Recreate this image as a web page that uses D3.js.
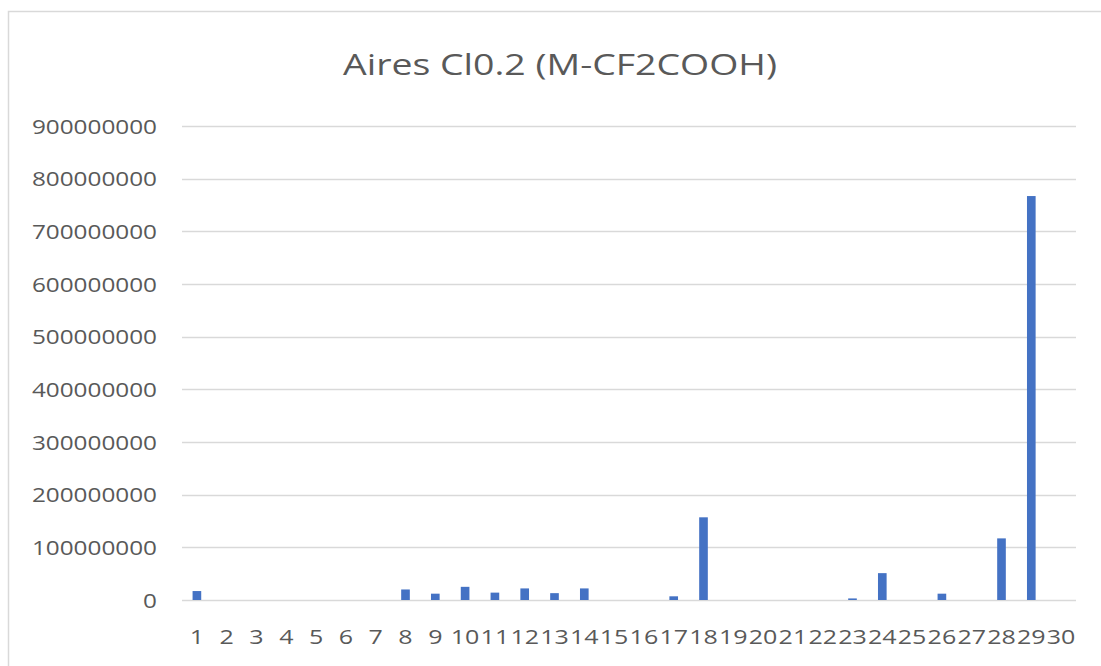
<!DOCTYPE html>
<html>
<head>
<meta charset="utf-8">
<script src="https://cdn.jsdelivr.net/npm/d3@7"></script>
<style>
html,body{margin:0;padding:0;background:#fff;}
svg{display:block;}
</style>
</head>
<body>
<svg id="chart" width="1101" height="666"></svg>
<script>
const chartTitle = "Aires Cl0.2 (M-CF2COOH)";
const categories = ["1","2","3","4","5","6","7","8","9","10","11","12","13","14","15","16","17","18","19","20","21","22","23","24","25","26","27","28","29","30"];
const values = [17e6,0,0,0,0,0,0,20e6,12e6,25e6,14e6,22e6,13e6,22e6,0,0,7e6,157e6,0,0,0,0,3e6,51e6,0,12e6,0,117e6,767e6,0];
const yTicks = [0,100000000,200000000,300000000,400000000,500000000,600000000,700000000,800000000,900000000];

const svg = d3.select("#chart");
const W = 1101, H = 666;
svg.append("rect").attr("width",W).attr("height",H).attr("fill","#fff");
// chart area border
svg.append("rect").attr("x",8.5).attr("y",11.5).attr("width",1200).attr("height",800)
  .attr("fill","none").attr("stroke","#d9d9d9").attr("stroke-width",1.5);

const plot = {left:182, right:1076, top:126, bottom:600};
const x = d3.scaleBand().domain(categories).range([plot.left, plot.right]).padding(0);
const y = d3.scaleLinear().domain([0,900000000]).range([plot.bottom, plot.top]);

const font = "'Open Sans', 'DejaVu Sans', sans-serif";
const textColor = "#595959";

// gridlines
svg.append("g").selectAll("line").data(yTicks).join("line")
  .attr("x1",plot.left).attr("x2",plot.right)
  .attr("y1",d=>Math.round(y(d))+0.5).attr("y2",d=>Math.round(y(d))+0.5)
  .attr("stroke","#d9d9d9").attr("stroke-width",1.5);

// y axis labels via d3 axis
const yAxis = d3.axisLeft(y).tickValues(yTicks).tickFormat(d3.format("d")).tickSize(0).tickPadding(0);
const gy = svg.append("g").attr("transform","translate(157,0)").call(yAxis);
gy.select(".domain").remove();
gy.selectAll("text").attr("font-family",font).attr("font-size",20).attr("fill",textColor)
  .attr("dy","0.36em")
  .each(function(d){ const n = String(d).length; d3.select(this).attr("textLength", n*13.9).attr("lengthAdjust","spacingAndGlyphs"); });

// bars
const barW = x.bandwidth()*0.29;
svg.append("g").selectAll("rect").data(values.map((v,i)=>({c:categories[i],v}))).join("rect")
  .attr("x",d=>x(d.c)+x.bandwidth()/2-barW/2)
  .attr("width",barW)
  .attr("y",d=>y(d.v))
  .attr("height",d=>y(0)-y(d.v))
  .attr("fill","#4472C4");

// x axis labels
const xAxis = d3.axisBottom(x).tickSize(0).tickPadding(0);
const gx = svg.append("g").attr("transform","translate(0,644)").call(xAxis);
gx.select(".domain").remove();
gx.selectAll("text").attr("font-family",font).attr("font-size",20).attr("fill",textColor)
  .attr("dy",0).attr("y",0)
  .each(function(d){ d3.select(this).attr("textLength", d.length*14.3).attr("lengthAdjust","spacingAndGlyphs"); });

// title
svg.append("text").attr("x",560).attr("y",75).attr("text-anchor","middle")
  .attr("font-family",font).attr("font-size",30).attr("fill",textColor)
  .attr("textLength",434).attr("lengthAdjust","spacingAndGlyphs")
  .text(chartTitle);
</script>
</body>
</html>
